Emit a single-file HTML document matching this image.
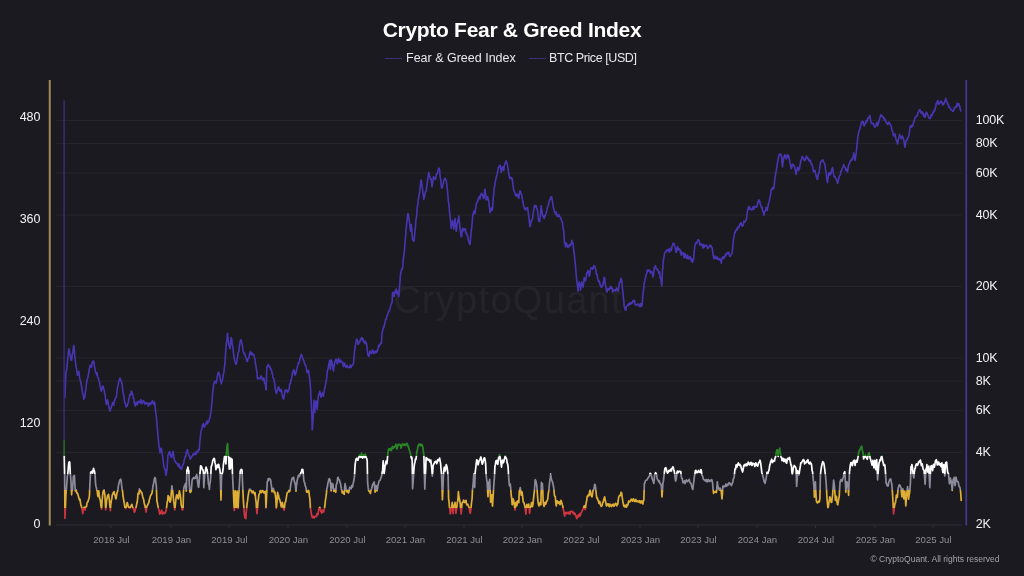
<!DOCTYPE html>
<html><head><meta charset="utf-8"><title>Crypto Fear &amp; Greed Index</title>
<style>
html,body{margin:0;padding:0;background:#1b1a20;}
body{width:1024px;height:576px;position:relative;overflow:hidden;font-family:"Liberation Sans",sans-serif;}
.title{will-change:transform;position:absolute;left:0;width:1024px;top:17.5px;text-align:center;color:#fff;font-weight:bold;font-size:21px;line-height:24px;letter-spacing:-0.3px;}
.legend{will-change:transform;position:absolute;left:0;top:50px;width:1024px;height:16px;color:#e8e8ee;font-size:12.5px;line-height:16px;}
.legend span{position:absolute;top:0;white-space:nowrap;}
.legend i{position:absolute;top:8px;height:1px;background:#3a2f7c;}
.yl{font-family:"Liberation Sans",sans-serif;font-size:12.5px;fill:#f2f2f5;}
.yr{font-family:"Liberation Sans",sans-serif;font-size:12.5px;fill:#f2f2f5;letter-spacing:-0.25px;}
.xl{font-family:"Liberation Sans",sans-serif;font-size:9.6px;fill:#8e8e96;}
.cp{font-family:"Liberation Sans",sans-serif;font-size:8.5px;fill:#a4a4aa;}
</style></head><body>
<svg width="1024" height="576" viewBox="0 0 1024 576" style="position:absolute;left:0;top:0;will-change:transform">
<defs><linearGradient id="fg" gradientUnits="userSpaceOnUse" x1="0" y1="0" x2="0" y2="576">
<stop offset="0.00000" stop-color="#4736b2"/>
<stop offset="0.76389" stop-color="#4736b2"/>
<stop offset="0.76389" stop-color="#2c8428"/>
<stop offset="0.79219" stop-color="#2c8428"/>
<stop offset="0.79219" stop-color="#ffffff"/>
<stop offset="0.82292" stop-color="#ffffff"/>
<stop offset="0.82292" stop-color="#8b8b9b"/>
<stop offset="0.85035" stop-color="#8b8b9b"/>
<stop offset="0.85035" stop-color="#dfae34"/>
<stop offset="0.88194" stop-color="#dfae34"/>
<stop offset="0.88194" stop-color="#cf3640"/>
<stop offset="1.00000" stop-color="#cf3640"/>
</linearGradient><filter id="bl" filterUnits="userSpaceOnUse" x="0" y="0" width="1024" height="576"><feGaussianBlur stdDeviation="0.55"/></filter></defs>
<text x="508" y="312.5" text-anchor="middle" font-family="Liberation Sans, sans-serif" font-size="38" letter-spacing="1.3" fill="#ffffff" fill-opacity="0.045">CryptoQuant</text>
<line x1="56" x2="962" y1="120.5" y2="120.5" stroke="#25242b" stroke-width="1"/>
<line x1="56" x2="962" y1="143.5" y2="143.5" stroke="#25242b" stroke-width="1"/>
<line x1="56" x2="962" y1="173" y2="173" stroke="#25242b" stroke-width="1"/>
<line x1="56" x2="962" y1="215" y2="215" stroke="#25242b" stroke-width="1"/>
<line x1="56" x2="962" y1="286.5" y2="286.5" stroke="#25242b" stroke-width="1"/>
<line x1="56" x2="962" y1="358" y2="358" stroke="#25242b" stroke-width="1"/>
<line x1="56" x2="962" y1="381" y2="381" stroke="#25242b" stroke-width="1"/>
<line x1="56" x2="962" y1="410.5" y2="410.5" stroke="#25242b" stroke-width="1"/>
<line x1="56" x2="962" y1="452.5" y2="452.5" stroke="#25242b" stroke-width="1"/>
<line x1="56" x2="962" y1="525" y2="525" stroke="#302f37" stroke-width="1"/>
<line x1="111" x2="111" y1="525" y2="528" stroke="#302f37" stroke-width="1"/>
<line x1="171" x2="171" y1="525" y2="528" stroke="#302f37" stroke-width="1"/>
<line x1="229" x2="229" y1="525" y2="528" stroke="#302f37" stroke-width="1"/>
<line x1="288" x2="288" y1="525" y2="528" stroke="#302f37" stroke-width="1"/>
<line x1="347" x2="347" y1="525" y2="528" stroke="#302f37" stroke-width="1"/>
<line x1="405" x2="405" y1="525" y2="528" stroke="#302f37" stroke-width="1"/>
<line x1="464" x2="464" y1="525" y2="528" stroke="#302f37" stroke-width="1"/>
<line x1="522" x2="522" y1="525" y2="528" stroke="#302f37" stroke-width="1"/>
<line x1="581" x2="581" y1="525" y2="528" stroke="#302f37" stroke-width="1"/>
<line x1="640" x2="640" y1="525" y2="528" stroke="#302f37" stroke-width="1"/>
<line x1="698" x2="698" y1="525" y2="528" stroke="#302f37" stroke-width="1"/>
<line x1="757" x2="757" y1="525" y2="528" stroke="#302f37" stroke-width="1"/>
<line x1="815.5" x2="815.5" y1="525" y2="528" stroke="#302f37" stroke-width="1"/>
<line x1="875" x2="875" y1="525" y2="528" stroke="#302f37" stroke-width="1"/>
<line x1="933" x2="933" y1="525" y2="528" stroke="#302f37" stroke-width="1"/>
<line x1="49.75" x2="49.75" y1="80" y2="525.5" stroke="#a08a58" stroke-width="2"/>
<line x1="966.25" x2="966.25" y1="80" y2="525.5" stroke="#463a8c" stroke-width="1.7"/>
<path d="M64.2,397.5 L64.6,398.0 L65.0,396.8 L65.4,385.7 L65.8,374.7 L66.2,371.5 L66.6,370.0 L67.0,367.1 L67.4,361.5 L67.9,358.3 L68.3,353.6 L68.8,348.9 L69.2,350.0 L69.6,352.9 L70.0,355.0 L70.4,355.3 L70.8,358.8 L71.2,360.1 L71.7,360.1 L72.1,356.0 L72.5,353.7 L72.9,351.9 L73.3,348.1 L73.8,345.3 L74.2,348.8 L74.6,353.5 L75.0,357.9 L75.4,361.5 L75.8,364.3 L76.2,367.1 L76.7,370.4 L77.1,372.6 L77.5,375.3 L77.9,373.9 L78.3,373.5 L78.8,371.2 L79.2,374.3 L79.6,377.7 L80.0,379.6 L80.4,380.9 L80.8,382.0 L81.2,384.5 L81.7,386.6 L82.1,390.2 L82.5,392.7 L82.9,394.3 L83.3,395.3 L83.8,399.1 L84.2,397.6 L84.6,397.7 L85.0,395.8 L85.4,392.1 L85.8,389.9 L86.2,385.5 L86.7,381.7 L87.1,379.6 L87.5,378.7 L87.9,377.3 L88.3,374.7 L88.8,372.6 L89.2,369.1 L89.6,368.0 L90.0,365.4 L90.4,365.4 L90.8,365.4 L91.2,367.2 L91.7,366.5 L92.1,362.6 L92.5,362.5 L92.9,361.2 L93.3,361.5 L93.8,361.2 L94.2,363.8 L94.6,367.6 L95.0,368.9 L95.4,371.6 L95.8,372.0 L96.2,373.6 L96.7,374.9 L97.1,372.9 L97.5,376.2 L97.9,377.6 L98.3,377.6 L98.8,380.2 L99.2,381.6 L99.6,382.0 L100.0,386.2 L100.4,387.0 L100.8,389.1 L101.2,391.2 L101.7,390.7 L102.1,388.0 L102.5,386.2 L102.9,387.4 L103.3,386.3 L103.8,389.2 L104.2,389.9 L104.6,393.3 L105.0,394.6 L105.4,397.0 L105.8,400.5 L106.2,404.4 L106.7,403.1 L107.1,400.7 L107.5,399.9 L107.9,401.0 L108.3,404.1 L108.8,406.0 L109.2,408.6 L109.6,408.4 L110.0,411.1 L110.4,409.2 L110.8,408.1 L111.2,407.8 L111.7,405.9 L112.1,404.7 L112.5,402.9 L112.9,404.4 L113.3,402.9 L113.8,405.2 L114.2,401.3 L114.6,400.8 L115.0,399.4 L115.4,398.2 L115.8,397.6 L116.2,397.6 L116.7,394.2 L117.1,390.9 L117.5,387.2 L117.9,386.4 L118.3,384.1 L118.8,381.2 L119.2,380.3 L119.6,379.3 L120.0,377.9 L120.4,379.1 L120.8,380.6 L121.2,381.2 L121.7,382.4 L122.1,385.0 L122.5,387.9 L122.9,391.3 L123.3,393.5 L123.8,396.0 L124.2,398.6 L124.6,401.9 L125.0,403.0 L125.4,403.6 L125.8,405.8 L126.2,407.0 L126.7,405.6 L127.1,406.0 L127.5,405.0 L127.9,403.8 L128.3,402.0 L128.8,399.1 L129.2,398.7 L129.6,395.8 L130.0,394.6 L130.4,394.2 L130.8,394.9 L131.2,391.4 L131.7,391.0 L132.1,393.1 L132.5,394.3 L132.9,394.5 L133.3,397.8 L133.8,398.5 L134.2,402.0 L134.6,403.6 L135.0,405.1 L135.4,406.0 L135.8,403.0 L136.2,402.3 L136.7,404.6 L137.1,402.5 L137.5,404.5 L137.9,402.9 L138.3,401.2 L138.8,401.2 L139.2,401.8 L139.6,402.3 L140.0,402.4 L140.4,403.1 L140.8,399.6 L141.2,401.1 L141.7,401.4 L142.1,403.7 L142.5,401.8 L142.9,401.8 L143.3,400.6 L143.8,401.0 L144.2,402.7 L144.6,403.3 L145.0,404.3 L145.4,402.8 L145.8,403.2 L146.2,402.9 L146.7,403.7 L147.1,403.0 L147.5,404.2 L147.9,403.3 L148.3,406.2 L148.8,405.1 L149.2,404.1 L149.6,403.6 L150.0,402.8 L150.4,404.5 L150.8,403.2 L151.2,403.6 L151.7,403.4 L152.1,401.3 L152.5,400.6 L152.9,402.8 L153.3,402.6 L153.8,404.2 L154.2,403.2 L154.6,402.0 L155.0,405.1 L155.4,408.5 L155.8,413.1 L156.2,415.2 L156.7,420.3 L157.1,425.5 L157.5,429.9 L157.9,435.1 L158.3,438.8 L158.8,445.2 L159.2,446.8 L159.6,449.6 L160.0,452.8 L160.4,451.7 L160.8,448.3 L161.2,448.2 L161.7,449.5 L162.1,453.3 L162.5,455.3 L162.9,458.5 L163.3,461.8 L163.8,465.6 L164.2,467.5 L164.6,468.7 L165.0,469.3 L165.5,471.8 L166.0,475.4 L166.5,472.7 L167.0,469.7 L167.5,461.9 L168.0,454.9 L168.5,454.4 L169.0,452.8 L169.5,451.6 L169.9,452.1 L170.4,455.3 L170.8,455.5 L171.2,457.4 L171.7,457.5 L172.1,454.4 L172.6,452.7 L173.0,451.2 L173.5,453.8 L174.0,458.5 L174.5,460.5 L174.9,461.3 L175.4,461.4 L175.8,462.8 L176.2,462.5 L176.7,463.3 L177.1,463.7 L177.5,463.8 L177.9,465.7 L178.3,466.2 L178.8,465.5 L179.2,463.9 L179.6,467.9 L180.0,467.5 L180.4,467.1 L180.8,468.1 L181.2,469.2 L181.7,468.8 L182.1,467.4 L182.5,465.8 L182.9,464.6 L183.3,464.3 L183.8,462.5 L184.2,460.0 L184.6,458.6 L185.0,457.4 L185.4,456.1 L185.8,456.2 L186.2,452.0 L186.7,451.9 L187.1,450.4 L187.5,449.6 L187.9,452.6 L188.3,454.3 L188.8,454.9 L189.2,455.7 L189.6,456.3 L190.0,458.7 L190.4,459.2 L190.8,457.3 L191.2,457.5 L191.7,456.9 L192.1,456.0 L192.5,455.4 L192.9,454.7 L193.3,453.8 L193.8,453.3 L194.2,455.0 L194.6,453.6 L195.0,453.6 L195.4,454.1 L195.8,452.2 L196.2,454.1 L196.7,452.7 L197.1,451.2 L197.5,451.0 L197.9,451.9 L198.4,449.6 L198.8,449.7 L199.2,450.0 L199.6,445.2 L200.0,440.0 L200.4,437.0 L200.8,433.0 L201.2,430.0 L201.7,429.5 L202.1,427.2 L202.5,424.8 L202.9,426.8 L203.3,423.6 L203.8,425.7 L204.2,426.4 L204.6,426.9 L205.0,426.3 L205.4,424.7 L205.8,424.3 L206.2,422.4 L206.7,423.3 L207.1,420.8 L207.5,423.9 L207.9,422.0 L208.3,422.5 L208.8,421.3 L209.2,420.2 L209.6,418.2 L210.0,417.7 L210.4,414.7 L210.8,412.7 L211.2,410.0 L211.7,404.2 L212.1,401.8 L212.5,395.3 L212.9,389.4 L213.3,388.3 L213.8,383.2 L214.2,382.7 L214.6,381.6 L215.0,381.1 L215.4,382.3 L215.8,382.6 L216.2,383.2 L216.7,380.8 L217.1,378.2 L217.5,375.6 L217.9,373.8 L218.3,372.3 L218.8,372.4 L219.2,374.8 L219.6,375.0 L220.0,377.2 L220.4,380.1 L220.8,381.7 L221.2,383.8 L221.7,381.9 L222.1,380.5 L222.5,379.9 L222.9,377.4 L223.3,374.7 L223.8,372.7 L224.2,369.7 L224.6,366.3 L225.0,362.7 L225.4,355.9 L225.8,349.8 L226.2,345.3 L226.7,341.3 L227.1,337.6 L227.5,333.3 L227.9,337.3 L228.3,340.7 L228.8,344.7 L229.2,345.7 L229.6,346.2 L230.0,348.8 L230.4,346.0 L230.8,340.6 L231.2,337.5 L231.7,339.0 L232.1,343.1 L232.5,345.7 L232.9,347.2 L233.3,351.5 L233.8,355.5 L234.2,357.8 L234.6,360.1 L235.0,361.8 L235.4,362.8 L235.8,364.2 L236.2,364.3 L236.7,362.2 L237.1,359.1 L237.5,357.3 L237.9,353.8 L238.3,352.4 L238.8,351.7 L239.2,348.2 L239.6,344.2 L240.0,343.0 L240.4,340.2 L240.8,342.0 L241.2,339.9 L241.7,342.4 L242.1,344.8 L242.5,346.3 L242.9,349.9 L243.3,351.3 L243.8,353.6 L244.2,353.6 L244.6,353.3 L245.0,354.7 L245.4,356.7 L245.8,357.4 L246.2,358.0 L246.7,361.2 L247.1,360.6 L247.5,361.4 L247.9,358.8 L248.3,358.5 L248.8,358.3 L249.2,356.3 L249.6,354.0 L250.0,352.6 L250.4,351.6 L250.8,353.4 L251.2,354.5 L251.7,352.7 L252.1,354.9 L252.5,354.1 L252.9,354.0 L253.3,354.9 L253.8,354.6 L254.2,356.7 L254.6,358.2 L255.0,359.3 L255.4,363.1 L255.8,365.0 L256.2,367.5 L256.7,370.5 L257.1,374.5 L257.5,379.0 L257.9,378.8 L258.3,377.9 L258.8,378.1 L259.2,378.5 L259.6,378.3 L260.0,378.7 L260.4,378.0 L260.8,376.2 L261.2,375.9 L261.7,377.8 L262.1,378.2 L262.5,379.9 L262.9,380.3 L263.3,378.2 L263.8,378.0 L264.2,379.6 L264.6,383.0 L265.0,383.9 L265.4,384.3 L265.8,389.0 L266.2,389.9 L266.8,366.8 L267.2,366.8 L267.6,366.0 L268.0,364.5 L268.5,364.8 L269.0,366.1 L269.5,367.2 L270.0,366.7 L270.4,368.6 L270.8,369.8 L271.2,369.1 L271.7,371.0 L272.1,373.5 L272.5,374.0 L272.9,376.9 L273.3,378.3 L273.8,378.5 L274.2,380.9 L274.6,382.9 L275.0,386.2 L275.4,388.7 L275.8,391.2 L276.2,393.4 L276.7,392.8 L277.1,390.9 L277.5,390.3 L277.9,389.4 L278.3,387.0 L278.8,387.0 L279.2,388.8 L279.6,389.6 L280.0,391.4 L280.4,391.6 L280.8,390.4 L281.2,389.4 L281.7,391.0 L282.1,394.7 L282.5,395.9 L282.9,398.1 L283.3,397.8 L283.8,398.9 L284.2,395.5 L284.6,393.7 L285.0,390.2 L285.4,390.6 L285.8,390.9 L286.2,389.7 L286.7,390.1 L287.1,391.6 L287.5,392.5 L287.9,390.9 L288.3,391.4 L288.8,389.4 L289.2,388.9 L289.6,384.6 L290.0,383.5 L290.4,383.7 L290.8,380.4 L291.2,379.4 L291.7,378.0 L292.1,375.0 L292.5,373.3 L292.9,371.9 L293.3,370.6 L293.8,369.6 L294.2,370.7 L294.6,374.8 L295.0,374.8 L295.4,375.0 L295.8,372.1 L296.2,372.7 L296.7,369.3 L297.1,367.9 L297.5,366.5 L297.9,364.9 L298.3,362.8 L298.8,363.6 L299.2,361.9 L299.6,360.9 L300.0,358.4 L300.4,357.2 L300.8,356.3 L301.2,354.4 L301.7,355.7 L302.1,355.9 L302.5,357.7 L302.9,358.7 L303.3,359.9 L303.8,360.4 L304.2,362.4 L304.6,363.4 L305.0,364.7 L305.5,365.2 L306.0,365.8 L306.4,368.5 L306.8,371.0 L307.2,372.7 L307.7,371.2 L308.1,372.3 L308.5,370.3 L308.9,372.5 L309.3,376.5 L309.8,379.4 L310.1,383.6 L310.5,387.8 L311.0,398.6 L311.5,407.3 L311.9,417.1 L312.2,429.9 L312.6,426.2 L313.0,420.1 L313.5,411.1 L314.0,400.3 L314.4,407.7 L314.8,412.7 L315.2,407.7 L315.6,404.6 L316.0,400.9 L316.4,402.5 L316.8,404.2 L317.2,409.5 L317.6,404.1 L318.0,398.5 L318.4,396.3 L318.9,393.6 L319.3,393.8 L319.8,391.3 L320.2,392.8 L320.6,395.0 L321.0,397.3 L321.4,396.8 L321.8,394.0 L322.2,393.0 L322.7,393.0 L323.1,394.4 L323.5,396.1 L323.9,392.8 L324.3,390.3 L324.8,387.9 L325.2,386.9 L325.6,383.2 L326.0,383.0 L326.4,379.3 L326.8,377.3 L327.2,372.4 L327.7,369.7 L328.1,369.0 L328.5,366.5 L328.9,363.8 L329.3,362.1 L329.8,360.0 L330.1,365.3 L330.5,369.4 L331.0,363.9 L331.5,360.0 L331.9,362.3 L332.3,363.7 L332.8,365.6 L333.1,370.0 L333.5,371.1 L333.9,367.0 L334.3,366.0 L334.8,361.7 L335.2,361.4 L335.6,360.3 L336.0,359.0 L336.4,359.5 L336.8,362.1 L337.2,363.9 L337.7,362.7 L338.1,360.8 L338.5,358.4 L338.9,359.5 L339.3,361.0 L339.8,362.4 L340.2,361.3 L340.6,360.0 L341.0,360.8 L341.4,361.9 L341.8,362.1 L342.2,362.7 L342.7,362.1 L343.1,364.6 L343.5,366.6 L343.9,363.7 L344.3,363.6 L344.8,363.2 L345.2,366.1 L345.6,366.3 L346.0,367.3 L346.4,366.8 L346.8,365.8 L347.2,365.3 L347.7,366.9 L348.1,367.5 L348.5,367.6 L348.9,367.8 L349.3,367.4 L349.8,366.7 L350.2,365.0 L350.6,367.4 L351.0,367.5 L351.4,366.8 L351.8,365.6 L352.2,365.0 L352.7,365.0 L353.1,364.3 L353.5,363.8 L353.9,358.2 L354.3,353.5 L354.8,349.7 L355.2,345.9 L355.6,344.5 L356.0,342.2 L356.4,340.0 L356.8,339.1 L357.2,339.8 L357.7,340.7 L358.1,344.5 L358.5,344.1 L358.9,342.6 L359.3,342.5 L359.8,342.1 L360.2,340.5 L360.6,339.7 L361.0,338.7 L361.4,337.8 L361.8,338.7 L362.2,337.7 L362.7,340.5 L363.1,338.8 L363.5,341.5 L363.9,341.7 L364.3,341.5 L364.8,343.6 L365.2,341.4 L365.6,342.1 L366.0,342.2 L366.4,343.7 L366.8,344.4 L367.2,350.4 L367.8,354.4 L368.2,355.8 L368.6,356.0 L369.0,356.4 L369.4,353.6 L369.8,351.1 L370.2,352.0 L370.7,353.2 L371.1,353.2 L371.5,353.6 L371.9,352.7 L372.3,350.1 L372.8,350.3 L373.2,351.4 L373.6,352.4 L374.0,353.6 L374.4,352.9 L374.8,352.2 L375.2,351.1 L375.7,352.5 L376.1,352.3 L376.5,352.5 L376.9,350.5 L377.3,351.1 L377.8,349.2 L378.2,348.5 L378.6,345.4 L379.0,346.1 L379.4,346.3 L379.8,344.6 L380.2,344.2 L380.7,342.9 L381.1,343.6 L381.5,342.7 L381.9,335.3 L382.2,332.4 L382.7,330.6 L383.1,328.6 L383.5,327.2 L383.9,327.7 L384.3,324.9 L384.8,324.0 L385.2,321.3 L385.6,319.4 L386.0,319.8 L386.4,318.7 L386.8,316.0 L387.2,315.2 L387.7,314.9 L388.1,312.9 L388.5,312.5 L388.9,310.6 L389.3,311.0 L389.8,309.4 L390.2,307.9 L390.6,305.8 L391.0,304.7 L391.4,303.5 L391.8,303.3 L392.2,301.0 L392.5,292.8 L392.9,292.4 L393.3,294.7 L393.8,296.5 L394.2,295.9 L394.6,292.3 L395.0,291.3 L395.4,292.9 L395.8,291.2 L396.2,289.0 L396.7,290.8 L397.1,293.6 L397.5,291.8 L397.9,294.3 L398.3,292.9 L398.8,296.6 L399.2,290.2 L399.6,286.7 L400.0,281.3 L400.4,275.2 L400.8,273.0 L401.2,271.1 L401.7,268.8 L402.1,269.3 L402.5,268.2 L402.9,265.5 L403.3,259.7 L403.8,255.7 L404.2,252.4 L404.6,248.8 L405.0,243.4 L405.4,238.8 L405.8,233.9 L406.2,228.3 L406.7,223.3 L407.1,220.6 L407.5,215.9 L407.9,213.5 L408.2,213.8 L408.7,216.8 L409.1,219.5 L409.5,222.0 L410.0,226.4 L410.5,231.2 L410.9,228.3 L411.2,224.5 L411.7,228.5 L412.1,234.2 L412.5,238.6 L412.9,240.1 L413.3,239.1 L413.8,241.3 L414.2,239.3 L414.6,235.2 L415.0,231.0 L415.4,227.6 L415.8,221.5 L416.2,218.3 L416.7,216.2 L417.1,208.7 L417.5,205.6 L417.9,203.8 L418.3,199.6 L418.8,197.0 L419.2,193.3 L419.6,192.9 L420.0,188.3 L420.4,185.3 L420.8,181.0 L421.2,180.0 L421.7,182.7 L422.1,186.0 L422.5,189.1 L422.9,192.4 L423.3,194.9 L423.8,199.4 L424.2,197.7 L424.6,196.8 L425.0,193.1 L425.4,192.4 L425.8,191.7 L426.2,191.2 L426.7,186.9 L427.1,184.6 L427.5,181.3 L427.9,178.0 L428.3,175.1 L428.8,172.5 L429.2,174.4 L429.6,176.7 L430.0,176.9 L430.4,179.2 L430.8,178.7 L431.2,179.3 L431.6,183.0 L432.0,186.8 L432.5,183.3 L433.0,180.1 L433.4,176.9 L433.8,177.0 L434.2,177.5 L434.7,177.8 L435.1,179.6 L435.5,179.3 L435.9,178.0 L436.3,174.1 L436.8,174.4 L437.2,173.7 L437.6,172.5 L438.0,170.3 L438.4,169.3 L438.8,168.1 L439.2,168.4 L439.7,170.1 L440.1,176.4 L440.5,178.9 L440.9,181.0 L441.3,186.8 L441.8,188.0 L442.2,187.8 L442.6,185.3 L443.0,184.1 L443.4,183.4 L443.8,180.4 L444.2,180.2 L444.7,178.5 L445.1,179.0 L445.5,178.3 L445.9,180.3 L446.3,181.3 L446.8,183.8 L447.1,187.8 L447.5,191.0 L447.9,195.1 L448.3,201.1 L448.8,203.2 L449.2,207.3 L449.6,212.5 L450.0,216.0 L450.4,218.7 L450.8,224.2 L451.2,228.4 L451.7,225.1 L452.1,223.7 L452.5,220.6 L452.9,223.3 L453.3,225.0 L453.8,229.1 L454.2,224.9 L454.6,222.2 L455.0,218.6 L455.4,223.3 L455.8,226.7 L456.2,231.3 L456.7,228.6 L457.1,223.8 L457.5,223.6 L457.9,219.8 L458.3,219.4 L458.8,216.1 L459.2,220.2 L459.6,222.9 L460.0,229.0 L460.4,231.2 L460.8,234.4 L461.2,236.8 L461.7,236.1 L462.1,231.8 L462.5,228.5 L462.9,228.4 L463.3,229.9 L463.8,230.9 L464.2,229.8 L464.6,229.3 L465.0,228.8 L465.4,228.6 L465.8,232.0 L466.2,233.9 L466.7,233.1 L467.1,235.0 L467.5,235.9 L467.9,236.6 L468.3,240.2 L468.8,240.9 L469.2,243.3 L469.6,243.9 L470.0,244.6 L470.4,240.4 L470.8,235.2 L471.2,230.4 L471.7,228.1 L472.1,223.0 L472.5,218.9 L472.9,214.4 L473.3,214.4 L473.8,211.3 L474.2,211.8 L474.6,210.8 L475.0,213.5 L475.4,210.0 L475.8,207.5 L476.2,204.8 L476.7,202.7 L477.1,202.1 L477.5,201.0 L477.9,201.1 L478.3,198.4 L478.8,198.1 L479.2,196.6 L479.6,198.0 L480.0,198.9 L480.4,195.4 L480.8,195.7 L481.2,193.6 L481.7,193.4 L482.1,194.1 L482.5,195.3 L482.9,195.6 L483.3,197.5 L483.8,198.7 L484.2,196.7 L484.6,190.8 L485.0,189.2 L485.4,191.9 L485.8,196.2 L486.2,200.0 L486.7,199.2 L487.1,197.0 L487.5,196.5 L487.9,197.6 L488.3,200.0 L488.8,200.7 L489.2,205.5 L489.6,207.9 L490.0,212.7 L490.4,211.8 L490.8,211.4 L491.2,208.3 L491.7,207.9 L492.1,210.1 L492.5,209.9 L492.9,203.9 L493.3,197.7 L493.8,193.8 L494.2,188.4 L494.6,186.4 L495.0,183.9 L495.4,181.2 L495.8,179.7 L496.2,177.4 L496.7,176.1 L497.1,174.9 L497.5,172.5 L497.9,170.2 L498.3,167.8 L498.8,167.1 L499.2,165.8 L499.6,165.9 L500.0,165.2 L500.4,168.0 L500.8,169.1 L501.2,172.3 L501.7,170.2 L502.1,167.7 L502.5,166.5 L502.9,168.2 L503.3,169.7 L503.8,170.6 L504.2,166.1 L504.6,165.3 L505.0,163.9 L505.4,162.5 L505.8,161.8 L506.2,160.9 L506.7,162.7 L507.1,163.5 L507.5,165.4 L507.9,167.6 L508.3,170.3 L508.8,174.0 L509.2,175.8 L509.6,177.5 L510.0,178.7 L510.4,178.0 L510.8,178.0 L511.2,177.4 L511.7,178.6 L512.1,178.1 L512.5,181.5 L512.9,183.9 L513.3,187.2 L513.8,190.9 L514.2,191.2 L514.6,191.9 L515.0,193.5 L515.4,195.1 L515.8,194.9 L516.2,196.2 L516.7,194.4 L517.1,195.8 L517.5,194.3 L517.9,196.6 L518.3,196.6 L518.8,198.3 L519.2,194.9 L519.6,192.4 L520.0,190.9 L520.4,191.0 L520.8,192.5 L521.2,193.9 L521.7,194.8 L522.1,197.4 L522.5,199.7 L522.9,201.3 L523.3,203.9 L523.8,206.1 L524.2,208.2 L524.6,207.8 L525.0,209.7 L525.4,209.2 L525.8,210.0 L526.2,208.1 L526.7,208.2 L527.1,208.4 L527.5,207.5 L527.9,209.9 L528.3,213.0 L528.8,216.6 L529.2,220.1 L529.6,223.7 L530.0,226.7 L530.4,225.9 L530.8,223.2 L531.2,220.9 L531.7,219.7 L532.1,219.8 L532.5,218.4 L532.9,216.0 L533.3,212.2 L533.8,210.1 L534.2,206.6 L534.6,205.5 L535.0,205.4 L535.4,206.1 L535.8,207.1 L536.2,205.7 L536.7,207.9 L537.1,209.4 L537.5,210.1 L537.9,213.3 L538.3,218.6 L538.8,221.1 L539.2,219.0 L539.6,221.6 L540.0,218.5 L540.4,215.5 L540.8,209.5 L541.2,205.7 L541.7,209.7 L542.1,212.6 L542.5,214.5 L542.9,216.2 L543.3,216.1 L543.8,217.8 L544.2,218.6 L544.6,215.8 L545.0,216.3 L545.4,215.7 L545.8,213.8 L546.2,212.8 L546.7,210.9 L547.1,209.2 L547.5,207.3 L547.9,206.4 L548.3,205.1 L548.8,203.2 L549.2,201.8 L549.6,199.8 L550.0,199.5 L550.4,199.2 L550.8,197.0 L551.2,197.5 L551.7,196.9 L552.1,199.8 L552.5,201.7 L552.9,203.6 L553.3,207.2 L553.8,208.4 L554.2,210.6 L554.6,212.2 L555.0,212.7 L555.4,212.4 L555.8,214.4 L556.2,212.0 L556.7,214.6 L557.1,216.3 L557.5,216.0 L557.9,216.5 L558.3,215.5 L558.8,214.5 L559.2,216.1 L559.6,216.8 L560.0,216.9 L560.4,217.7 L560.8,217.7 L561.2,219.6 L561.7,221.0 L562.1,221.4 L562.5,222.8 L562.9,226.6 L563.3,229.6 L563.8,230.7 L564.1,237.3 L564.5,243.3 L565.0,242.4 L565.5,246.8 L565.9,245.4 L566.3,243.1 L566.8,244.0 L567.2,245.4 L567.6,247.3 L568.0,247.5 L568.4,246.9 L568.8,246.9 L569.2,244.7 L569.7,245.4 L570.1,244.6 L570.5,245.6 L570.9,244.5 L571.3,242.9 L571.8,240.4 L572.2,242.2 L572.6,243.6 L573.0,243.0 L573.4,246.5 L573.8,251.7 L574.2,253.2 L574.7,258.2 L575.1,262.5 L575.5,266.1 L575.9,271.1 L576.3,276.5 L576.8,281.1 L577.2,284.5 L577.6,286.3 L578.0,291.1 L578.4,287.0 L578.8,285.7 L579.2,281.8 L579.7,284.9 L580.1,284.9 L580.5,290.1 L580.9,287.4 L581.3,283.8 L581.8,281.8 L582.2,284.9 L582.6,285.0 L583.0,287.2 L583.4,284.4 L583.8,282.3 L584.2,277.5 L584.7,280.4 L585.1,279.4 L585.5,280.9 L585.9,279.1 L586.3,276.3 L586.8,272.7 L587.2,273.2 L587.6,271.7 L588.0,270.6 L588.4,272.1 L588.8,272.9 L589.2,276.3 L589.7,275.2 L590.1,271.3 L590.5,269.6 L590.9,268.0 L591.3,268.3 L591.8,268.1 L592.2,268.1 L592.6,269.2 L593.0,267.6 L593.4,267.7 L593.8,265.5 L594.2,266.3 L594.7,266.2 L595.1,266.9 L595.5,268.8 L595.9,270.1 L596.3,274.1 L596.8,273.6 L597.2,275.3 L597.6,278.3 L598.0,279.3 L598.4,280.8 L598.8,282.0 L599.2,281.0 L599.7,282.2 L600.1,285.3 L600.5,285.6 L600.9,286.8 L601.3,286.4 L601.8,287.4 L602.2,285.3 L602.6,285.3 L603.0,283.7 L603.4,283.0 L603.8,279.0 L604.2,277.4 L604.7,278.6 L605.1,282.4 L605.5,286.1 L605.9,286.9 L606.3,290.1 L606.8,291.9 L607.2,291.4 L607.6,290.3 L608.0,288.3 L608.4,289.5 L608.8,288.8 L609.2,289.8 L609.7,289.0 L610.1,287.8 L610.5,286.2 L610.9,288.4 L611.3,287.1 L611.8,288.4 L612.2,288.1 L612.6,291.8 L613.0,291.8 L613.4,290.9 L613.8,290.1 L614.2,289.9 L614.7,289.9 L615.1,290.3 L615.5,291.0 L615.9,289.9 L616.3,289.3 L616.8,288.1 L617.2,288.8 L617.6,289.1 L618.0,291.3 L618.4,289.3 L618.8,286.6 L619.2,283.6 L619.7,282.1 L620.1,282.3 L620.5,280.4 L620.9,278.3 L621.3,279.1 L621.8,280.3 L622.1,284.3 L622.5,289.1 L622.9,291.7 L623.3,297.1 L623.8,300.6 L624.2,306.6 L624.7,307.8 L625.1,309.7 L625.5,309.8 L625.9,310.3 L626.3,306.5 L626.8,306.0 L627.2,305.9 L627.6,304.7 L628.0,305.6 L628.4,305.2 L628.8,303.5 L629.2,304.4 L629.7,304.6 L630.1,302.6 L630.5,303.1 L630.9,304.0 L631.3,302.9 L631.8,303.5 L632.2,302.8 L632.6,302.3 L633.0,300.6 L633.4,301.8 L633.8,300.4 L634.2,300.6 L634.7,300.6 L635.1,304.3 L635.5,304.1 L635.9,305.2 L636.3,304.6 L636.8,305.0 L637.2,305.0 L637.6,304.6 L638.0,303.8 L638.4,303.7 L638.8,304.2 L639.2,306.3 L639.7,305.7 L640.1,306.7 L640.5,304.6 L640.9,303.6 L641.3,304.1 L641.8,306.2 L642.2,304.0 L642.6,298.4 L643.0,294.7 L643.4,291.2 L643.8,288.1 L644.2,282.9 L644.7,281.6 L645.1,280.0 L645.5,277.4 L645.9,275.9 L646.3,274.5 L646.8,273.2 L647.2,270.1 L647.6,271.2 L648.0,271.4 L648.4,270.6 L648.8,270.3 L649.2,269.9 L649.7,270.0 L650.1,272.1 L650.5,273.0 L650.9,271.8 L651.3,272.1 L651.8,271.6 L652.2,272.7 L652.6,275.3 L653.0,277.0 L653.4,275.6 L653.8,272.4 L654.2,267.4 L654.7,268.9 L655.1,267.4 L655.5,265.6 L655.9,267.5 L656.3,268.1 L656.8,268.9 L657.2,269.8 L657.6,269.2 L658.0,270.4 L658.4,271.1 L658.8,273.4 L659.2,272.5 L659.7,271.9 L660.1,277.6 L660.5,277.7 L660.9,278.8 L661.3,282.8 L661.8,286.0 L662.1,279.0 L662.5,269.8 L662.9,266.9 L663.3,261.2 L663.8,257.8 L664.2,255.3 L664.6,253.1 L665.0,252.7 L665.4,251.9 L665.8,252.1 L666.2,250.7 L666.7,249.9 L667.1,250.1 L667.5,250.7 L667.9,250.8 L668.3,249.3 L668.8,250.1 L669.2,252.1 L669.6,249.9 L670.0,248.3 L670.4,250.1 L670.8,250.4 L671.2,250.8 L671.7,248.5 L672.1,246.2 L672.5,245.3 L672.9,243.4 L673.3,243.8 L673.8,243.4 L674.2,244.5 L674.6,245.1 L675.0,247.0 L675.4,248.2 L675.8,251.2 L676.2,252.5 L676.7,250.3 L677.1,248.8 L677.5,246.5 L677.9,247.5 L678.3,249.8 L678.8,248.9 L679.2,249.5 L679.6,249.1 L680.0,250.4 L680.4,253.0 L680.8,250.7 L681.2,255.3 L681.7,253.2 L682.1,253.7 L682.5,252.5 L682.9,252.6 L683.3,253.8 L683.8,256.2 L684.2,257.8 L684.6,253.5 L685.0,253.6 L685.4,254.7 L685.8,256.0 L686.2,257.9 L686.7,258.5 L687.1,255.8 L687.5,255.1 L687.9,256.0 L688.3,258.9 L688.8,258.7 L689.2,258.5 L689.6,256.9 L690.0,256.7 L690.4,257.4 L690.8,258.0 L691.2,260.7 L691.7,259.1 L692.1,261.8 L692.5,262.4 L692.9,259.6 L693.3,260.2 L693.8,256.4 L694.2,252.1 L694.6,247.9 L695.0,245.1 L695.4,244.2 L695.8,243.1 L696.2,242.3 L696.7,243.5 L697.1,241.9 L697.5,241.2 L697.9,239.7 L698.3,239.7 L698.8,240.3 L699.2,241.0 L699.6,243.9 L700.0,245.0 L700.4,244.9 L700.8,244.5 L701.2,243.6 L701.7,244.3 L702.1,245.4 L702.5,246.5 L702.9,248.0 L703.3,246.2 L703.8,244.5 L704.2,247.4 L704.6,245.7 L705.0,246.0 L705.4,245.9 L705.8,245.4 L706.2,245.1 L706.7,245.8 L707.1,246.6 L707.5,248.0 L707.9,248.6 L708.3,246.8 L708.8,246.8 L709.2,246.7 L709.6,246.5 L710.0,245.1 L710.4,245.6 L710.8,246.6 L711.2,245.9 L711.7,247.6 L712.1,247.7 L712.5,250.3 L712.9,253.1 L713.3,256.4 L713.8,258.6 L714.2,257.2 L714.6,257.9 L715.0,256.1 L715.4,256.9 L715.8,257.9 L716.2,258.9 L716.7,258.4 L717.1,257.0 L717.5,257.1 L717.9,259.2 L718.3,258.9 L718.8,259.9 L719.2,258.8 L719.6,260.0 L720.0,258.9 L720.4,259.5 L720.8,259.7 L721.2,263.1 L721.7,260.3 L722.1,258.1 L722.5,257.3 L722.9,256.9 L723.3,258.3 L723.8,258.6 L724.2,256.8 L724.6,257.7 L725.0,255.9 L725.4,254.2 L725.8,255.7 L726.2,254.8 L726.7,253.6 L727.1,252.7 L727.5,253.5 L727.9,252.8 L728.3,252.5 L728.8,252.3 L729.2,254.9 L729.6,256.0 L730.0,256.4 L730.4,256.3 L730.8,255.0 L731.2,254.5 L731.7,253.8 L732.1,252.9 L732.5,249.7 L732.9,245.2 L733.3,241.0 L733.8,237.0 L734.2,235.9 L734.6,232.4 L735.0,231.7 L735.4,232.3 L735.8,230.5 L736.2,230.0 L736.7,228.8 L737.1,230.0 L737.5,228.8 L737.9,227.0 L738.3,227.1 L738.8,227.7 L739.2,225.8 L739.6,225.4 L740.0,223.8 L740.4,224.6 L740.8,222.8 L741.2,222.9 L741.7,224.7 L742.1,226.2 L742.5,226.1 L742.9,224.8 L743.3,225.2 L743.8,221.2 L744.2,221.1 L744.6,222.2 L745.0,222.1 L745.4,220.9 L745.8,220.4 L746.2,219.9 L746.7,218.0 L747.1,213.2 L747.5,211.2 L747.9,209.8 L748.3,207.7 L748.8,206.5 L749.2,209.1 L749.6,206.9 L750.0,208.4 L750.4,208.7 L750.8,209.1 L751.2,209.8 L751.7,209.5 L752.1,209.9 L752.5,208.4 L752.9,207.8 L753.3,206.5 L753.8,209.3 L754.2,207.9 L754.6,206.7 L755.0,206.6 L755.4,206.6 L755.8,206.9 L756.2,207.2 L756.7,207.1 L757.1,205.8 L757.5,203.4 L757.9,202.0 L758.3,202.4 L758.8,199.7 L759.2,200.5 L759.6,201.0 L760.0,202.4 L760.4,204.5 L760.8,205.1 L761.2,206.6 L761.7,208.0 L762.1,206.9 L762.5,210.0 L762.9,211.6 L763.3,211.8 L763.8,215.3 L764.2,213.7 L764.6,212.0 L765.0,211.4 L765.4,210.9 L765.8,209.4 L766.2,207.3 L766.7,207.9 L767.1,210.5 L767.5,208.3 L767.9,206.7 L768.3,204.6 L768.8,203.0 L769.2,201.4 L769.6,199.4 L770.0,197.4 L770.4,196.1 L770.8,192.6 L771.2,190.0 L771.7,189.3 L772.1,189.0 L772.5,187.5 L772.9,188.1 L773.3,189.0 L773.8,188.5 L774.2,184.8 L774.6,181.3 L775.0,177.7 L775.4,175.9 L775.8,172.9 L776.2,170.9 L776.7,168.0 L777.1,165.0 L777.5,162.8 L777.9,161.0 L778.3,158.4 L778.8,155.9 L779.2,154.2 L779.6,154.7 L780.0,154.0 L780.4,154.5 L780.8,154.4 L781.2,155.2 L781.7,157.0 L782.1,163.5 L782.5,166.8 L782.9,163.5 L783.3,160.6 L783.8,157.4 L784.2,157.5 L784.6,155.0 L785.0,154.8 L785.4,156.6 L785.8,156.2 L786.2,158.9 L786.7,157.9 L787.1,156.2 L787.5,154.8 L787.9,157.0 L788.3,155.4 L788.8,156.3 L789.2,159.1 L789.6,160.4 L790.0,162.9 L790.4,164.6 L790.8,166.9 L791.2,168.7 L791.7,167.7 L792.1,164.8 L792.5,164.1 L792.9,165.5 L793.3,164.5 L793.8,165.7 L794.2,165.9 L794.6,167.2 L795.0,169.0 L795.4,170.5 L795.8,173.8 L796.2,174.3 L796.7,170.3 L797.1,169.2 L797.5,167.4 L797.9,169.8 L798.3,169.9 L798.8,170.3 L799.2,167.6 L799.6,168.5 L800.0,164.6 L800.4,163.4 L800.8,160.8 L801.2,159.7 L801.7,159.0 L802.1,156.7 L802.5,156.5 L802.9,157.6 L803.3,158.0 L803.8,159.0 L804.2,160.2 L804.6,160.6 L805.0,159.6 L805.4,159.3 L805.8,158.3 L806.2,156.1 L806.7,156.3 L807.1,158.2 L807.5,157.7 L807.9,158.0 L808.3,159.6 L808.8,159.1 L809.2,161.1 L809.6,160.1 L810.0,161.6 L810.4,160.3 L810.8,162.3 L811.2,164.4 L811.7,163.7 L812.1,165.3 L812.5,166.1 L812.9,168.3 L813.3,170.6 L813.8,171.8 L814.2,170.7 L814.6,170.7 L815.0,170.3 L815.4,173.1 L815.8,173.9 L816.2,176.7 L816.7,176.2 L817.1,179.0 L817.5,179.5 L817.9,177.1 L818.3,174.3 L818.8,173.1 L819.2,171.9 L819.6,169.0 L820.0,166.3 L820.4,162.8 L820.8,161.4 L821.2,161.3 L821.7,161.5 L822.1,160.9 L822.5,159.7 L822.9,159.7 L823.3,161.3 L823.8,162.1 L824.2,163.2 L824.6,163.7 L825.0,165.0 L825.4,168.3 L825.8,171.1 L826.2,173.2 L826.7,178.1 L827.1,180.0 L827.5,182.7 L827.9,178.8 L828.3,176.8 L828.8,172.9 L829.2,172.7 L829.6,175.1 L830.0,174.7 L830.4,172.5 L830.8,174.1 L831.2,172.1 L831.7,170.3 L832.1,168.3 L832.5,167.5 L832.9,169.7 L833.3,172.6 L833.8,175.2 L834.2,176.9 L834.6,176.2 L835.0,176.4 L835.4,177.5 L835.8,178.6 L836.2,179.1 L836.7,180.7 L837.1,181.0 L837.5,183.4 L837.9,182.3 L838.3,180.1 L838.8,178.6 L839.2,177.0 L839.6,175.6 L840.0,175.4 L840.4,174.5 L840.8,171.4 L841.2,171.3 L841.7,170.0 L842.1,168.3 L842.5,167.9 L842.9,167.0 L843.3,165.9 L843.8,164.7 L844.2,166.7 L844.6,166.9 L845.0,167.6 L845.4,167.7 L845.8,170.5 L846.2,168.9 L846.7,169.6 L847.1,170.2 L847.5,172.0 L847.9,169.1 L848.3,167.0 L848.8,164.9 L849.2,163.9 L849.6,163.7 L850.0,161.5 L850.4,160.9 L850.8,160.3 L851.2,160.1 L851.7,160.3 L852.1,158.5 L852.5,159.4 L852.9,157.1 L853.3,156.2 L853.8,152.9 L854.2,156.0 L854.6,157.6 L855.0,160.5 L855.4,158.4 L855.8,155.3 L856.2,152.7 L856.7,148.1 L857.1,143.4 L857.5,140.4 L857.9,136.4 L858.3,134.5 L858.8,132.1 L859.2,130.4 L859.6,129.6 L860.0,129.1 L860.4,126.2 L860.8,126.1 L861.2,123.1 L861.7,122.2 L862.1,121.3 L862.5,121.5 L862.9,123.7 L863.3,121.7 L863.8,125.0 L864.2,126.0 L864.6,124.2 L865.0,124.3 L865.4,124.0 L865.8,122.3 L866.2,120.7 L866.7,120.2 L867.1,121.8 L867.5,119.7 L867.9,118.2 L868.3,117.9 L868.8,118.0 L869.2,117.2 L869.6,115.3 L870.0,116.0 L870.4,118.9 L870.8,121.5 L871.2,123.0 L871.7,123.4 L872.1,123.8 L872.5,123.4 L872.9,123.7 L873.3,123.4 L873.8,124.9 L874.2,126.2 L874.6,126.7 L875.0,127.2 L875.4,126.8 L875.8,125.8 L876.2,124.2 L876.7,122.6 L877.1,123.2 L877.5,125.9 L877.9,125.1 L878.3,123.8 L878.8,121.5 L879.2,120.0 L879.6,119.0 L880.0,117.4 L880.4,116.1 L880.8,114.9 L881.2,116.1 L881.7,115.2 L882.1,116.3 L882.5,116.4 L882.9,117.5 L883.3,117.0 L883.8,117.8 L884.2,120.1 L884.6,118.6 L885.0,119.8 L885.4,119.9 L885.8,121.3 L886.2,122.1 L886.7,123.2 L887.1,123.9 L887.5,124.2 L887.9,124.5 L888.3,122.6 L888.8,122.6 L889.2,122.2 L889.6,123.4 L890.0,123.8 L890.4,125.0 L890.8,125.4 L891.2,125.9 L891.7,129.2 L892.1,130.3 L892.5,132.0 L892.9,132.2 L893.3,135.6 L893.8,135.6 L894.2,136.0 L894.6,135.9 L895.0,133.9 L895.4,136.6 L895.8,138.4 L896.2,139.8 L896.7,141.4 L897.1,140.8 L897.5,144.0 L897.9,142.2 L898.3,139.7 L898.8,137.9 L899.2,136.5 L899.6,134.3 L900.0,135.5 L900.4,136.3 L900.8,137.0 L901.2,138.6 L901.7,137.6 L902.1,137.3 L902.5,135.8 L902.9,137.6 L903.3,138.4 L903.8,140.2 L904.2,142.2 L904.6,145.6 L905.0,147.2 L905.4,145.3 L905.8,142.2 L906.2,140.4 L906.7,139.9 L907.1,140.1 L907.5,138.6 L907.9,137.4 L908.3,137.1 L908.8,135.9 L909.2,133.1 L909.6,131.5 L910.0,127.1 L910.4,126.2 L910.8,125.9 L911.2,125.6 L911.7,127.3 L912.1,125.3 L912.5,126.1 L912.9,125.2 L913.3,123.2 L913.8,121.8 L914.2,121.4 L914.6,119.5 L915.0,117.6 L915.4,117.6 L915.8,116.8 L916.2,116.0 L916.7,116.4 L917.1,115.4 L917.5,115.1 L917.9,112.8 L918.3,112.6 L918.8,111.2 L919.2,110.1 L919.6,109.7 L920.0,109.8 L920.4,111.3 L920.8,111.9 L921.2,113.4 L921.7,113.4 L922.1,111.8 L922.5,112.6 L922.9,113.0 L923.3,114.8 L923.8,116.6 L924.2,114.7 L924.6,115.9 L925.0,117.3 L925.4,115.7 L925.8,113.4 L926.2,112.2 L926.7,112.8 L927.1,113.3 L927.5,115.0 L927.9,115.2 L928.3,116.5 L928.8,117.5 L929.2,118.5 L929.6,117.8 L930.0,118.6 L930.4,118.3 L930.8,115.2 L931.2,116.3 L931.7,114.6 L932.1,115.4 L932.5,113.6 L932.9,112.1 L933.3,113.0 L933.8,111.1 L934.2,110.1 L934.6,110.8 L935.0,109.3 L935.4,107.8 L935.8,106.5 L936.2,103.3 L936.7,103.8 L937.1,101.8 L937.5,101.1 L937.9,100.6 L938.3,104.2 L938.8,104.2 L939.2,103.0 L939.6,103.2 L940.0,101.8 L940.4,102.1 L940.8,102.0 L941.2,101.0 L941.7,101.9 L942.1,103.6 L942.5,104.7 L942.9,103.1 L943.3,104.8 L943.8,104.1 L944.2,103.0 L944.6,101.9 L945.0,100.4 L945.4,100.1 L945.8,98.2 L946.2,101.3 L946.7,101.6 L947.1,101.9 L947.5,103.9 L947.9,103.7 L948.3,104.4 L948.8,107.1 L949.2,106.3 L949.6,107.2 L950.0,107.7 L950.4,108.9 L950.8,109.1 L951.2,110.2 L951.7,110.3 L952.1,110.4 L952.5,111.2 L952.9,111.4 L953.3,111.0 L953.8,110.2 L954.2,107.8 L954.6,108.1 L955.0,107.7 L955.4,106.7 L955.8,107.1 L956.2,106.3 L956.7,106.9 L957.1,103.4 L957.5,105.1 L957.9,105.5 L958.3,104.8 L958.8,103.6 L959.2,104.8 L959.6,105.9 L960.0,107.7 L960.4,110.0 L960.8,111.0" fill="none" stroke="#4736b2" stroke-width="1.6" filter="url(#bl)" stroke-linejoin="round" stroke-linecap="round"/>
<line x1="64.1" x2="64.1" y1="100.5" y2="439.5" stroke="#352c74" stroke-width="1.6" filter="url(#bl)"/>
<line x1="64.1" x2="64.1" y1="439.5" y2="456" stroke="#2c6a2c" stroke-width="1.6" filter="url(#bl)"/>
<path d="M64.2,456.0 L64.6,474.4 L65.0,518.3 L65.5,505.7 L65.9,495.1 L66.4,488.6 L66.9,482.2 L67.3,476.9 L67.8,474.2 L68.3,468.1 L68.8,462.7 L69.2,461.9 L69.7,462.0 L70.2,472.4 L70.6,476.4 L71.0,482.0 L71.6,494.8 L72.0,489.3 L72.5,489.8 L73.0,482.5 L73.4,476.0 L73.9,476.0 L74.4,475.4 L74.8,483.3 L75.3,490.9 L75.8,491.0 L76.2,489.8 L76.7,493.0 L77.2,492.7 L77.7,493.9 L78.1,495.0 L78.6,497.1 L79.1,498.7 L79.5,500.1 L80.0,499.3 L80.5,502.8 L80.9,505.2 L81.4,506.2 L81.9,508.6 L82.3,509.9 L82.8,513.7 L83.3,509.0 L83.8,508.2 L84.2,507.0 L84.7,508.4 L85.2,510.1 L85.6,507.4 L86.1,506.6 L86.6,506.3 L87.0,502.9 L87.5,502.1 L88.0,501.8 L88.4,499.8 L88.9,498.9 L89.4,496.2 L89.9,483.7 L90.3,476.5 L90.7,472.2 L91.2,472.8 L91.6,472.3 L92.1,471.1 L92.6,473.1 L93.0,470.9 L93.5,468.3 L94.0,469.8 L94.4,470.9 L95.0,474.3 L95.6,483.5 L95.9,486.2 L96.3,487.3 L96.8,490.0 L97.2,491.1 L97.7,495.4 L98.2,496.7 L98.8,490.8 L99.2,495.0 L99.7,498.5 L100.2,499.6 L100.6,502.4 L101.1,506.8 L101.6,509.2 L102.1,500.6 L102.6,495.7 L103.1,491.2 L103.5,491.4 L104.0,489.8 L104.5,493.1 L104.9,494.9 L105.3,502.5 L105.7,509.9 L106.2,504.9 L106.6,500.4 L107.1,498.1 L107.6,495.7 L108.0,495.4 L108.5,494.3 L109.0,497.7 L109.4,500.4 L109.9,505.8 L110.4,510.7 L110.8,504.0 L111.3,500.9 L111.8,498.6 L112.2,495.1 L112.7,494.2 L113.2,492.7 L113.7,493.7 L114.1,491.7 L114.6,494.6 L115.1,495.1 L115.5,497.6 L116.0,498.8 L116.5,496.1 L116.9,492.9 L117.4,491.8 L117.9,489.9 L118.3,486.4 L118.8,483.8 L119.3,482.4 L119.8,480.0 L120.2,480.3 L120.7,479.1 L121.2,481.2 L121.6,485.2 L122.1,489.1 L122.6,491.5 L123.0,496.0 L123.5,498.8 L124.0,501.7 L124.4,503.8 L124.9,507.5 L125.4,507.8 L125.8,508.6 L126.3,506.8 L126.8,504.2 L127.2,502.5 L127.7,504.0 L128.2,506.0 L128.7,507.5 L129.1,507.4 L129.6,508.0 L130.1,508.0 L130.5,506.4 L131.0,506.1 L131.5,504.8 L131.9,504.4 L132.4,506.9 L132.9,508.1 L133.3,508.3 L133.8,509.8 L134.3,512.1 L134.8,511.9 L135.2,510.2 L135.7,508.2 L136.2,506.8 L136.6,504.4 L137.1,502.6 L137.6,499.0 L138.0,493.4 L138.5,493.1 L139.0,493.9 L139.4,488.9 L139.9,490.0 L140.4,490.7 L140.8,491.2 L141.3,492.7 L141.8,492.4 L142.2,494.5 L142.7,496.7 L143.2,498.5 L143.7,499.7 L144.1,502.7 L144.6,504.6 L145.1,506.3 L145.5,508.7 L146.0,512.0 L146.5,509.0 L146.9,506.0 L147.4,505.8 L147.9,504.5 L148.3,503.5 L148.8,502.8 L149.3,499.6 L149.8,498.7 L150.2,496.4 L150.7,495.5 L151.2,494.5 L151.6,493.9 L152.1,492.7 L152.6,489.2 L153.0,485.6 L153.5,483.9 L154.0,481.2 L154.4,479.0 L154.9,477.6 L155.4,478.3 L155.8,482.0 L156.3,485.8 L156.9,500.7 L157.3,502.6 L157.8,505.4 L158.3,507.9 L158.8,509.8 L159.2,511.4 L159.7,514.1 L160.2,513.2 L160.6,513.4 L161.1,511.6 L161.6,510.2 L162.0,512.3 L162.5,514.0 L163.0,512.1 L163.4,513.2 L163.9,513.4 L164.4,513.4 L164.8,513.4 L165.3,512.0 L165.8,512.1 L166.2,510.3 L166.7,506.6 L167.2,501.9 L167.7,500.3 L168.1,495.5 L168.6,496.6 L169.1,497.0 L169.5,500.8 L170.0,502.2 L170.5,501.3 L170.9,498.8 L171.4,491.3 L171.9,485.8 L172.3,488.8 L172.8,491.9 L173.3,497.7 L173.8,501.9 L174.2,504.5 L174.7,510.0 L175.2,506.1 L175.6,502.2 L176.1,497.4 L176.6,494.9 L177.0,494.9 L177.5,496.6 L178.0,498.6 L178.4,498.8 L178.9,494.3 L179.4,490.8 L179.8,493.0 L180.3,495.6 L180.8,499.2 L181.2,505.0 L181.7,506.5 L182.2,509.9 L182.7,509.7 L183.1,507.8 L183.5,491.3 L184.0,487.2 L184.4,485.9 L184.9,485.7 L185.4,483.5 L185.8,487.7 L186.3,491.1 L186.9,469.8 L187.3,471.2 L187.8,467.1 L188.3,469.5 L188.8,470.8 L189.3,483.8 L189.8,490.6 L190.2,492.5 L190.7,491.9 L191.2,491.1 L191.7,485.4 L192.1,480.3 L192.6,478.9 L193.1,478.6 L193.5,477.6 L194.0,478.3 L194.5,478.5 L194.9,477.5 L195.4,478.2 L195.9,476.1 L196.3,476.2 L196.8,474.6 L197.3,478.9 L197.8,483.5 L198.2,486.4 L198.7,487.3 L199.2,481.6 L199.6,475.9 L200.1,472.7 L200.6,465.9 L201.0,466.0 L201.5,466.8 L202.0,468.1 L202.4,469.7 L202.9,469.6 L203.4,472.1 L203.8,487.7 L204.2,481.9 L204.7,474.0 L205.2,472.1 L205.6,469.5 L206.1,467.2 L206.6,468.6 L207.0,469.6 L207.5,472.8 L208.0,477.9 L208.4,483.7 L208.9,485.2 L209.4,489.4 L209.8,483.9 L210.3,482.0 L210.8,475.6 L211.2,466.4 L211.7,465.8 L212.2,463.6 L212.7,461.1 L213.1,459.8 L213.6,459.0 L214.1,458.3 L214.5,459.0 L215.0,462.7 L215.5,464.6 L215.9,469.6 L216.4,467.6 L216.9,465.9 L217.3,465.2 L217.8,467.5 L218.3,464.4 L218.8,464.6 L219.2,467.4 L219.7,468.8 L220.2,472.3 L220.6,486.5 L221.0,500.1 L221.6,473.7 L222.0,474.5 L222.5,472.8 L223.0,469.7 L223.4,464.7 L223.9,461.5 L224.4,457.1 L224.8,456.2 L225.3,455.9 L225.9,464.0 L226.4,453.8 L227.0,446.3 L227.6,443.7 L228.1,452.9 L228.7,458.1 L229.2,469.2 L229.8,457.9 L230.4,468.8 L230.9,458.3 L231.5,467.1 L232.1,459.3 L232.4,472.5 L232.9,483.2 L233.4,491.5 L233.8,501.3 L234.3,510.5 L234.8,500.8 L235.2,490.9 L235.7,499.0 L236.2,507.6 L236.7,500.0 L237.1,491.1 L237.6,500.1 L238.1,508.4 L238.5,499.0 L239.0,491.3 L239.4,484.2 L239.8,477.3 L240.3,471.0 L240.8,470.0 L241.2,469.3 L241.6,469.9 L242.0,469.9 L242.5,481.6 L242.9,491.1 L243.4,500.9 L243.9,507.7 L244.3,512.9 L244.8,517.6 L245.3,517.8 L245.8,518.6 L246.2,512.6 L246.7,507.7 L247.2,503.1 L247.6,500.4 L248.1,496.1 L248.6,493.2 L249.0,490.9 L249.5,489.1 L250.0,489.2 L250.4,489.6 L250.9,490.4 L251.4,491.4 L251.8,491.0 L252.3,493.0 L252.8,492.8 L253.2,491.0 L253.7,492.4 L254.2,493.0 L254.7,494.9 L255.1,492.7 L255.6,498.4 L256.1,502.3 L256.5,508.7 L257.0,513.7 L257.5,508.5 L257.9,502.3 L258.4,498.9 L258.9,494.7 L259.3,493.9 L259.8,492.8 L260.3,490.5 L260.8,490.8 L261.2,492.2 L261.7,492.5 L262.2,490.9 L262.6,490.5 L263.1,491.2 L263.6,491.5 L264.0,493.0 L264.5,492.0 L265.0,492.3 L265.4,491.3 L266.0,507.9 L266.4,500.1 L266.8,490.8 L267.3,481.3 L267.8,481.5 L268.2,478.7 L268.7,480.1 L269.2,478.5 L269.7,478.6 L270.1,479.7 L270.6,479.8 L271.1,483.7 L271.5,486.0 L272.0,491.8 L272.5,489.2 L272.9,490.3 L273.4,488.3 L273.9,491.1 L274.3,492.9 L274.8,492.0 L275.3,494.7 L275.8,498.6 L276.3,508.3 L276.7,505.2 L277.1,500.5 L277.6,492.4 L278.1,494.3 L278.6,495.4 L279.0,499.0 L279.5,498.8 L280.0,500.8 L280.4,502.3 L280.9,505.1 L281.4,506.9 L281.8,503.5 L282.3,502.5 L282.8,504.3 L283.2,507.9 L283.7,508.9 L284.2,510.2 L284.7,505.5 L285.1,502.4 L285.6,501.9 L286.1,498.9 L286.5,496.6 L287.0,493.3 L287.5,492.5 L287.9,492.3 L288.4,491.7 L288.9,490.3 L289.3,491.7 L289.8,491.2 L290.3,488.3 L290.8,483.8 L291.2,482.5 L291.7,479.7 L292.2,478.5 L292.6,477.7 L293.1,478.8 L293.6,477.4 L294.0,479.7 L294.5,482.1 L295.0,483.0 L295.4,485.7 L296.0,491.1 L296.4,485.8 L296.8,483.6 L297.2,480.1 L297.7,478.6 L298.2,476.0 L298.6,475.1 L299.1,476.7 L299.6,476.2 L300.0,474.1 L300.5,474.5 L301.0,472.3 L301.4,472.2 L301.9,469.6 L302.4,469.4 L302.8,469.5 L303.3,474.1 L303.8,479.9 L304.2,481.8 L304.7,482.9 L305.2,485.7 L305.7,486.8 L306.1,488.4 L306.6,492.1 L307.1,492.0 L307.5,492.2 L308.0,490.9 L308.5,490.4 L308.9,491.5 L309.4,496.1 L309.9,498.9 L310.4,508.1 L310.9,510.8 L311.4,514.0 L311.8,516.1 L312.3,517.6 L312.8,517.5 L313.2,516.5 L313.7,516.7 L314.2,518.0 L314.7,516.3 L315.1,516.4 L315.6,516.7 L316.1,516.6 L316.5,516.2 L317.0,513.6 L317.5,514.0 L317.9,514.6 L318.4,511.4 L318.9,508.4 L319.3,509.6 L319.8,507.4 L320.3,508.6 L320.8,511.6 L321.2,510.7 L321.7,513.1 L322.2,512.2 L322.6,510.1 L323.1,511.3 L323.6,512.1 L324.0,510.4 L324.5,508.4 L325.0,504.6 L325.4,500.3 L325.9,497.7 L326.4,493.6 L326.8,488.8 L327.3,487.4 L327.8,483.6 L328.2,482.1 L328.7,479.7 L329.2,478.6 L329.7,480.1 L330.1,479.8 L330.6,485.2 L331.1,491.0 L331.5,488.0 L332.0,483.4 L332.5,484.6 L332.9,484.2 L333.4,488.9 L333.9,491.4 L334.3,489.2 L334.8,489.1 L335.3,490.9 L335.8,492.3 L336.2,485.3 L336.7,483.8 L337.2,482.3 L337.6,478.0 L338.1,477.3 L338.6,479.5 L339.0,479.7 L339.5,480.1 L340.0,482.4 L340.4,483.3 L340.9,485.9 L341.4,489.0 L341.8,490.2 L342.3,493.0 L342.8,491.7 L343.2,492.8 L343.7,493.6 L344.2,494.4 L344.7,487.4 L345.1,483.7 L345.6,486.4 L346.1,489.4 L346.5,491.2 L347.0,491.9 L347.5,490.4 L347.9,490.7 L348.4,492.9 L348.9,492.0 L349.3,489.1 L349.8,487.2 L350.3,488.1 L350.8,488.6 L351.2,488.7 L351.7,485.5 L352.2,485.4 L352.6,486.9 L353.1,483.5 L353.6,481.6 L354.0,479.6 L354.5,476.2 L355.1,464.6 L355.5,461.9 L356.0,459.2 L356.5,458.7 L356.9,458.2 L357.4,459.9 L357.9,460.2 L358.3,458.3 L358.8,457.9 L359.3,455.2 L359.8,455.0 L360.2,456.6 L360.7,457.4 L361.2,455.8 L361.6,453.2 L362.1,456.3 L362.6,458.1 L363.0,455.8 L363.5,454.8 L364.0,455.4 L364.4,457.5 L364.9,456.0 L365.4,454.1 L365.8,456.0 L366.3,457.9 L366.8,458.7 L367.2,461.1 L367.6,482.1 L368.1,487.2 L368.6,490.5 L369.0,490.8 L369.5,491.8 L370.0,491.8 L370.4,493.5 L370.9,490.3 L371.4,489.3 L371.8,488.1 L372.3,485.8 L372.8,484.0 L373.2,484.5 L373.7,483.0 L374.2,482.0 L374.7,487.8 L375.1,492.1 L375.6,489.5 L376.1,485.6 L376.5,487.6 L377.0,490.9 L377.5,488.8 L377.9,485.7 L378.4,483.6 L378.9,481.7 L379.3,480.7 L379.8,480.3 L380.3,480.1 L380.8,478.0 L381.2,477.4 L381.7,475.6 L382.2,472.4 L382.6,470.4 L383.2,460.9 L383.7,468.4 L384.1,473.6 L384.6,470.1 L385.1,465.2 L385.5,465.1 L386.0,461.1 L386.5,462.6 L386.9,463.7 L387.4,458.8 L387.9,452.5 L388.3,450.6 L388.8,448.6 L389.3,449.6 L389.8,450.2 L390.2,450.3 L390.7,448.3 L391.2,449.9 L391.6,450.4 L392.1,447.4 L392.6,446.5 L393.0,448.1 L393.5,448.1 L394.0,446.8 L394.4,447.2 L394.9,446.4 L395.4,445.6 L395.8,444.2 L396.3,446.1 L396.8,449.0 L397.2,448.6 L397.7,446.1 L398.2,444.3 L398.7,444.6 L399.1,445.0 L399.6,444.4 L400.1,444.4 L400.5,445.2 L401.0,448.1 L401.5,447.0 L401.9,444.8 L402.4,444.4 L402.9,443.8 L403.3,444.9 L403.8,445.4 L404.3,444.4 L404.8,444.4 L405.2,445.3 L405.7,445.6 L406.2,443.6 L406.6,444.3 L407.1,443.5 L407.6,444.6 L408.0,446.7 L408.5,446.5 L409.0,449.3 L409.4,450.3 L409.9,451.4 L410.4,453.8 L410.8,455.1 L411.3,458.0 L411.8,457.2 L412.2,461.4 L412.6,488.8 L413.1,482.3 L413.6,474.8 L414.0,468.2 L414.5,463.6 L415.0,462.2 L415.4,458.8 L415.9,459.6 L416.4,456.1 L416.8,452.1 L417.3,450.3 L417.8,447.0 L418.2,445.4 L418.7,444.8 L419.2,444.0 L419.7,445.4 L420.1,444.0 L420.6,444.4 L421.1,445.9 L421.5,444.8 L422.0,444.5 L422.5,446.0 L422.9,447.6 L423.4,451.6 L423.9,455.3 L424.4,474.5 L424.8,489.1 L425.4,474.2 L425.8,467.1 L426.1,457.6 L426.6,459.6 L427.1,458.3 L427.5,459.0 L428.0,460.0 L428.5,460.1 L428.9,459.3 L429.4,460.3 L429.9,461.9 L430.3,461.5 L430.8,460.1 L431.3,464.9 L431.8,468.7 L432.3,476.1 L432.8,470.4 L433.2,465.0 L433.6,464.6 L434.0,463.5 L434.5,462.7 L434.9,461.9 L435.4,461.7 L435.9,461.2 L436.3,462.4 L436.8,463.6 L437.3,462.1 L437.8,459.7 L438.2,461.0 L438.7,459.6 L439.2,459.6 L439.6,458.1 L440.1,461.0 L440.6,463.6 L441.0,468.6 L441.5,474.0 L442.0,487.4 L442.4,499.8 L442.9,489.3 L443.4,476.4 L443.8,470.3 L444.3,467.1 L444.8,469.8 L445.2,470.9 L445.7,467.9 L446.2,464.6 L446.7,465.7 L447.1,467.4 L447.6,471.4 L448.1,476.0 L448.6,498.6 L449.0,501.6 L449.4,506.4 L449.8,509.4 L450.3,513.9 L450.8,511.2 L451.2,508.7 L451.7,506.9 L452.2,502.3 L452.7,508.0 L453.1,513.7 L453.6,508.5 L454.1,505.0 L454.5,504.6 L455.0,502.4 L455.5,506.9 L455.9,513.5 L456.4,510.0 L456.9,506.8 L457.3,502.3 L457.8,501.1 L458.4,491.7 L458.8,495.8 L459.3,498.3 L459.8,501.2 L460.2,503.5 L460.7,509.6 L461.2,513.8 L461.8,505.9 L462.2,502.5 L462.7,502.5 L463.2,501.5 L463.6,500.1 L464.1,502.0 L464.6,502.5 L465.0,501.0 L465.5,501.3 L466.0,500.3 L466.4,503.7 L466.9,504.8 L467.4,504.3 L467.8,504.2 L468.3,505.8 L468.8,506.9 L469.2,507.8 L469.7,511.2 L470.2,513.4 L470.7,510.8 L471.1,506.7 L471.6,502.0 L472.1,498.5 L472.5,489.5 L473.0,485.6 L473.4,480.3 L473.8,474.0 L474.2,481.9 L474.7,487.3 L475.2,472.1 L475.7,468.5 L476.2,463.3 L476.7,459.8 L477.1,460.1 L477.6,461.5 L478.1,464.9 L478.5,463.3 L479.0,461.1 L479.5,460.4 L479.9,459.7 L480.4,458.1 L480.9,457.0 L481.3,458.9 L481.8,462.5 L482.3,464.2 L482.8,463.1 L483.2,461.6 L483.7,459.1 L484.2,457.9 L484.6,457.8 L485.1,459.8 L485.6,463.2 L486.1,474.4 L486.6,479.2 L487.1,482.0 L487.5,489.3 L488.0,496.8 L488.4,488.9 L488.8,482.2 L489.2,482.9 L489.7,479.4 L490.2,492.2 L490.6,502.1 L491.1,498.2 L491.6,494.9 L492.0,500.2 L492.5,506.1 L493.0,498.2 L493.4,491.9 L493.9,483.4 L494.4,477.9 L494.9,466.6 L495.4,464.2 L495.9,460.8 L496.3,460.8 L496.8,460.3 L497.3,463.9 L497.8,464.3 L498.2,460.7 L498.7,457.5 L499.2,457.7 L499.6,454.6 L500.1,457.3 L500.6,461.0 L501.0,463.7 L501.5,467.2 L502.0,462.7 L502.4,460.1 L502.9,461.7 L503.4,462.8 L503.8,461.8 L504.3,459.2 L504.8,457.9 L505.2,455.8 L505.7,457.9 L506.2,458.1 L506.7,459.5 L507.1,462.6 L507.6,463.9 L508.1,467.0 L508.6,476.4 L509.0,480.9 L509.4,485.6 L509.8,486.0 L510.3,484.1 L510.8,489.6 L511.2,495.2 L511.7,498.3 L512.2,504.8 L512.7,503.4 L513.1,498.8 L513.6,500.2 L514.1,502.9 L514.5,505.8 L515.0,510.0 L515.5,506.8 L515.9,502.4 L516.4,505.0 L516.9,505.6 L517.3,501.2 L517.8,500.9 L518.3,502.0 L518.8,502.6 L519.3,491.1 L519.8,489.4 L520.2,487.7 L520.7,490.2 L521.2,495.1 L521.7,492.4 L522.1,492.0 L522.6,496.3 L523.1,500.7 L523.5,502.5 L524.0,502.8 L524.5,505.2 L524.9,506.0 L525.4,510.1 L525.9,514.1 L526.3,509.3 L526.8,504.4 L527.3,505.3 L527.8,507.3 L528.2,507.0 L528.7,504.0 L529.2,507.8 L529.6,513.3 L530.1,508.6 L530.6,506.7 L531.0,506.1 L531.5,502.7 L532.0,504.5 L532.4,506.7 L532.9,504.4 L533.4,499.8 L533.8,495.9 L534.3,492.1 L534.8,485.3 L535.2,479.7 L535.7,480.4 L536.2,482.4 L536.7,485.2 L537.1,489.5 L537.6,497.0 L538.1,502.6 L538.5,504.4 L539.0,505.9 L539.5,503.3 L539.9,502.9 L540.4,502.3 L540.9,504.8 L541.4,482.3 L541.9,484.2 L542.4,483.7 L542.8,491.4 L543.1,500.7 L543.6,504.6 L544.1,506.4 L544.5,504.8 L545.0,502.5 L545.5,504.3 L545.9,503.7 L546.4,501.5 L546.9,501.2 L547.3,500.1 L547.8,499.0 L548.3,493.3 L548.8,490.9 L549.2,486.2 L549.7,481.8 L550.2,479.2 L550.6,474.2 L551.1,477.3 L551.6,479.7 L552.0,480.7 L552.5,482.0 L553.0,484.1 L553.4,486.0 L553.9,489.2 L554.4,495.3 L554.8,496.3 L555.3,496.6 L555.8,502.7 L556.2,506.0 L556.7,503.1 L557.2,500.8 L557.7,502.8 L558.1,502.4 L558.6,503.3 L559.1,501.7 L559.5,502.3 L560.0,504.6 L560.5,502.6 L560.9,500.4 L561.4,501.4 L561.9,502.9 L562.3,504.7 L562.8,506.2 L563.3,509.8 L563.8,511.4 L564.2,514.3 L564.7,516.1 L565.2,513.2 L565.6,512.4 L566.1,512.5 L566.6,513.7 L567.0,512.6 L567.5,512.8 L568.0,512.4 L568.4,513.9 L568.9,513.3 L569.4,512.0 L569.8,512.3 L570.3,514.0 L570.8,511.4 L571.2,511.6 L571.7,511.3 L572.2,511.4 L572.7,511.5 L573.1,513.0 L573.6,513.8 L574.1,512.6 L574.5,514.4 L575.0,513.5 L575.5,514.9 L575.9,515.8 L576.4,517.6 L576.9,518.6 L577.3,516.9 L577.8,515.6 L578.3,514.9 L578.8,516.8 L579.2,515.4 L579.7,513.5 L580.2,515.8 L580.6,514.7 L581.1,512.7 L581.6,512.1 L582.0,511.3 L582.5,510.2 L583.0,509.0 L583.4,508.4 L583.9,506.8 L584.4,505.7 L584.8,508.0 L585.3,509.7 L585.8,505.4 L586.2,502.7 L586.7,500.5 L587.2,496.4 L587.7,496.5 L588.1,495.0 L588.6,495.7 L589.1,495.7 L589.5,492.1 L590.0,490.1 L590.5,491.9 L590.9,494.9 L591.4,496.0 L591.9,496.9 L592.3,495.8 L592.8,490.9 L593.3,489.9 L593.8,489.4 L594.2,487.6 L594.7,484.3 L595.2,484.8 L595.6,487.6 L596.1,492.5 L596.6,497.1 L597.0,498.4 L597.5,498.2 L598.0,500.6 L598.4,500.6 L598.9,503.4 L599.4,502.4 L599.8,501.5 L600.3,504.3 L600.8,505.5 L601.2,506.4 L601.7,506.0 L602.2,505.1 L602.7,502.4 L603.1,502.4 L603.6,500.4 L604.1,498.5 L604.6,496.9 L605.1,499.4 L605.6,501.8 L606.0,503.6 L606.5,506.0 L607.0,504.6 L607.4,504.0 L607.9,504.3 L608.4,505.5 L608.8,503.9 L609.3,506.7 L609.8,504.8 L610.2,504.6 L610.7,504.4 L611.2,506.2 L611.7,506.5 L612.1,505.3 L612.6,505.0 L613.1,504.1 L613.5,504.7 L614.0,506.3 L614.5,505.2 L614.9,504.4 L615.4,503.3 L615.9,503.3 L616.3,505.0 L616.8,505.8 L617.3,504.5 L617.8,504.2 L618.2,500.7 L618.7,497.2 L619.2,496.2 L619.6,495.4 L620.1,495.3 L620.6,495.6 L621.0,492.4 L621.5,492.5 L622.0,495.7 L622.4,498.5 L622.9,501.9 L623.4,504.0 L623.8,506.2 L624.3,506.6 L624.8,506.8 L625.2,505.2 L625.6,507.0 L626.0,506.5 L626.5,507.2 L626.9,504.7 L627.4,505.7 L627.9,504.8 L628.3,502.3 L628.8,501.0 L629.3,501.2 L629.8,502.1 L630.2,500.9 L630.7,500.6 L631.2,499.1 L631.6,500.4 L632.1,499.9 L632.6,501.2 L633.0,499.4 L633.5,498.8 L634.0,499.8 L634.4,500.8 L634.9,501.5 L635.4,500.0 L635.8,499.4 L636.3,501.6 L636.8,500.9 L637.2,500.9 L637.7,501.2 L638.2,502.0 L638.7,501.2 L639.1,501.3 L639.6,500.7 L640.1,502.9 L640.5,502.9 L641.0,501.3 L641.5,500.9 L641.9,502.3 L642.4,503.3 L642.9,504.0 L643.3,500.8 L643.8,500.5 L644.4,483.3 L644.8,483.1 L645.3,481.0 L645.8,480.5 L646.2,480.3 L646.7,479.8 L647.2,479.6 L647.7,478.4 L648.1,477.9 L648.6,477.2 L649.1,476.2 L649.5,476.0 L650.0,473.3 L650.5,473.5 L650.9,474.1 L651.4,475.6 L651.9,477.4 L652.3,479.2 L652.8,480.2 L653.3,482.0 L653.8,483.5 L654.2,479.9 L654.7,474.6 L655.2,473.7 L655.6,472.7 L656.1,473.4 L656.6,474.5 L657.0,477.7 L657.5,479.6 L658.0,480.0 L658.4,480.7 L658.9,481.8 L659.4,481.0 L659.8,483.1 L660.3,483.7 L660.8,484.1 L661.2,484.8 L661.6,489.5 L662.0,497.0 L662.5,489.7 L662.9,483.5 L663.4,481.2 L663.9,476.1 L664.3,473.4 L664.8,468.7 L665.3,468.0 L665.8,467.7 L666.2,468.4 L666.7,471.4 L667.2,472.2 L667.6,473.0 L668.1,472.2 L668.6,470.9 L669.0,470.3 L669.5,471.3 L670.0,471.0 L670.4,469.9 L670.9,469.2 L671.4,471.0 L671.8,468.7 L672.3,467.9 L672.8,466.9 L673.2,467.1 L673.7,469.5 L674.2,471.0 L674.7,473.6 L675.1,478.2 L675.6,481.1 L676.1,480.0 L676.5,476.7 L677.0,472.6 L677.5,471.1 L677.9,471.2 L678.4,472.5 L678.9,471.3 L679.3,471.6 L679.8,471.3 L680.3,471.5 L680.8,471.6 L681.2,475.7 L681.7,478.4 L682.2,478.5 L682.6,480.7 L683.1,482.8 L683.6,481.7 L684.0,481.4 L684.5,480.7 L685.0,483.6 L685.4,482.4 L685.9,481.6 L686.4,479.9 L686.8,480.7 L687.3,481.5 L687.8,480.7 L688.2,480.9 L688.7,480.7 L689.2,479.4 L689.7,481.5 L690.1,482.5 L690.6,483.2 L691.1,483.6 L691.5,485.5 L692.0,487.4 L692.5,488.9 L692.9,489.4 L693.4,484.1 L693.9,481.0 L694.3,476.9 L694.8,474.5 L695.3,471.0 L695.8,470.3 L696.2,472.7 L696.7,471.4 L697.2,471.9 L697.6,472.6 L698.1,472.1 L698.6,470.4 L699.0,471.7 L699.5,471.8 L700.0,472.3 L700.4,471.8 L700.9,469.6 L701.4,470.9 L701.8,475.1 L702.3,475.3 L702.8,477.0 L703.2,478.6 L703.7,479.7 L704.2,479.7 L704.7,479.9 L705.1,480.8 L705.6,481.1 L706.1,479.7 L706.5,479.6 L707.0,481.9 L707.5,480.7 L707.9,481.5 L708.4,479.5 L708.9,480.1 L709.3,480.7 L709.8,481.4 L710.3,480.9 L710.8,480.2 L711.2,480.8 L711.7,479.7 L712.2,480.8 L712.6,483.2 L713.1,489.7 L713.6,493.3 L714.0,491.8 L714.5,492.1 L715.0,492.3 L715.4,491.5 L715.9,492.2 L716.4,492.4 L716.8,489.0 L717.3,481.8 L717.8,485.9 L718.2,487.0 L718.7,489.1 L719.2,489.9 L719.7,489.9 L720.1,488.0 L720.6,489.1 L721.1,490.9 L721.5,493.8 L722.0,499.0 L722.5,492.5 L722.9,486.0 L723.4,486.9 L723.9,486.0 L724.3,486.7 L724.8,486.6 L725.3,486.5 L725.8,484.0 L726.2,485.1 L726.7,486.2 L727.2,485.1 L727.6,484.1 L728.1,484.0 L728.6,484.8 L729.0,482.7 L729.5,483.0 L730.0,483.5 L730.4,483.6 L730.9,484.7 L731.4,485.7 L731.8,484.4 L732.3,483.1 L732.8,482.3 L733.2,479.2 L733.7,478.4 L734.2,476.7 L734.7,471.5 L735.1,468.7 L735.6,469.0 L736.1,464.8 L736.5,466.8 L737.0,467.0 L737.5,464.2 L737.9,464.0 L738.4,462.9 L738.9,464.9 L739.3,465.3 L739.8,464.3 L740.3,465.3 L740.8,465.7 L741.2,467.9 L741.7,469.2 L742.2,470.8 L742.6,471.9 L743.1,469.6 L743.6,467.0 L744.0,465.1 L744.5,465.5 L745.0,464.5 L745.4,465.6 L745.9,464.4 L746.4,463.8 L746.8,465.7 L747.3,464.9 L747.8,463.4 L748.2,462.1 L748.7,463.1 L749.2,464.5 L749.7,464.9 L750.1,463.0 L750.6,464.2 L751.1,462.4 L751.5,463.9 L752.0,465.5 L752.5,464.2 L752.9,463.2 L753.4,463.7 L753.9,463.6 L754.3,464.4 L754.8,466.5 L755.3,464.2 L755.8,462.9 L756.2,463.6 L756.7,465.4 L757.2,465.5 L757.6,466.2 L758.1,464.8 L758.6,462.8 L759.0,462.4 L759.5,461.7 L760.0,460.2 L760.4,461.4 L760.9,465.0 L761.4,468.8 L761.8,472.4 L762.3,473.9 L762.8,476.1 L763.2,477.3 L763.7,479.2 L764.2,482.1 L764.7,481.4 L765.1,483.3 L765.6,480.6 L766.1,478.7 L766.5,476.0 L767.0,472.4 L767.5,473.5 L767.9,473.5 L768.4,471.6 L768.9,470.4 L769.3,468.2 L769.8,464.9 L770.3,463.8 L770.8,461.0 L771.2,461.0 L771.7,459.2 L772.2,461.8 L772.6,462.5 L773.1,460.6 L773.6,461.1 L774.0,461.1 L774.5,461.0 L775.0,458.2 L775.4,457.5 L775.9,454.8 L776.4,451.6 L776.8,449.9 L777.3,449.8 L777.8,452.3 L778.2,456.3 L778.7,452.5 L779.2,450.1 L779.7,448.2 L780.1,451.6 L780.6,453.8 L781.1,457.5 L781.5,457.7 L782.0,460.7 L782.5,459.2 L782.9,458.3 L783.4,459.0 L783.9,461.5 L784.3,460.7 L784.8,459.1 L785.3,461.3 L785.8,460.0 L786.2,462.8 L786.7,463.2 L787.2,459.5 L787.6,458.3 L788.1,459.4 L788.6,459.2 L789.0,458.5 L789.5,457.5 L790.0,460.2 L790.4,461.9 L790.9,465.2 L791.4,465.1 L791.8,471.0 L792.3,474.3 L792.8,471.7 L793.2,468.4 L793.7,466.9 L794.2,465.5 L794.7,466.2 L795.1,466.6 L795.6,467.3 L796.1,469.0 L796.6,486.5 L797.1,480.4 L797.6,470.7 L798.0,472.5 L798.5,474.6 L799.0,474.9 L799.4,472.0 L799.9,468.6 L800.4,465.7 L800.8,462.8 L801.3,463.1 L801.8,462.1 L802.2,461.5 L802.7,460.9 L803.2,459.6 L803.7,460.4 L804.1,460.2 L804.6,463.8 L805.1,462.7 L805.5,462.4 L806.0,462.8 L806.5,462.2 L806.9,460.7 L807.4,460.3 L807.9,459.7 L808.3,462.1 L808.8,463.3 L809.3,462.8 L809.8,463.9 L810.2,462.0 L810.7,463.4 L811.2,463.6 L811.6,465.1 L812.1,470.6 L812.6,472.2 L813.0,477.2 L813.5,481.6 L814.0,487.7 L814.4,497.2 L814.9,489.3 L815.4,481.9 L815.8,491.9 L816.3,500.5 L816.8,502.2 L817.2,502.9 L817.6,501.9 L818.0,502.7 L818.5,501.7 L818.9,501.0 L819.4,501.9 L819.9,498.4 L820.4,474.9 L820.9,470.7 L821.4,467.1 L821.8,465.3 L822.3,463.1 L822.8,461.6 L823.2,462.2 L823.7,462.8 L824.2,465.5 L824.7,469.1 L825.1,472.3 L825.6,476.9 L826.1,482.3 L826.5,489.1 L827.0,498.8 L827.5,503.6 L827.9,507.8 L828.4,506.2 L828.9,502.4 L829.3,500.6 L829.8,496.9 L830.3,498.2 L830.8,500.6 L831.2,502.4 L831.7,502.2 L832.2,498.0 L832.6,495.0 L833.1,488.0 L833.6,480.2 L834.0,482.9 L834.5,487.1 L835.0,494.0 L835.4,500.5 L835.9,499.0 L836.4,496.3 L836.8,500.2 L837.3,504.0 L837.8,504.8 L838.2,501.8 L838.7,498.9 L839.2,496.7 L839.7,487.8 L840.1,481.7 L840.6,480.2 L841.1,479.4 L841.5,480.0 L842.0,481.4 L842.5,479.6 L842.9,478.6 L843.4,476.9 L843.9,473.5 L844.3,472.7 L844.8,471.7 L845.3,480.5 L845.8,492.3 L846.2,487.1 L846.7,481.9 L847.2,482.0 L847.6,483.6 L848.1,488.4 L848.6,495.3 L849.0,483.8 L849.5,471.8 L850.0,467.7 L850.4,464.5 L850.9,462.7 L851.4,462.7 L851.8,463.7 L852.3,465.7 L852.8,463.7 L853.2,461.2 L853.7,460.9 L854.2,460.1 L854.7,463.2 L855.1,465.5 L855.6,461.9 L856.1,460.4 L856.5,461.5 L857.0,462.2 L857.5,459.8 L857.9,457.7 L858.4,454.5 L858.9,451.7 L859.3,450.3 L859.8,450.3 L860.3,448.6 L860.8,447.5 L861.2,446.8 L861.7,446.1 L862.2,449.3 L862.6,451.3 L863.1,453.7 L863.6,458.9 L864.0,457.8 L864.5,457.1 L865.0,455.2 L865.4,454.9 L865.9,456.7 L866.4,458.0 L866.8,457.3 L867.3,459.4 L867.8,457.1 L868.2,454.6 L868.7,453.0 L869.2,452.7 L869.7,455.2 L870.1,458.2 L870.6,459.4 L871.1,461.6 L871.5,462.7 L872.0,465.1 L872.5,462.6 L872.9,460.3 L873.4,462.8 L873.9,467.8 L874.3,466.3 L874.8,460.3 L875.3,463.4 L875.8,469.6 L876.2,464.5 L876.7,459.5 L877.2,468.4 L877.6,479.9 L878.1,473.2 L878.6,466.8 L879.0,463.2 L879.5,461.5 L880.0,459.6 L880.4,460.7 L880.9,458.4 L881.4,456.4 L881.8,456.1 L882.3,458.6 L882.8,461.1 L883.2,462.6 L883.7,465.5 L884.2,464.9 L884.7,464.6 L885.1,467.3 L885.6,474.4 L886.1,483.4 L886.5,483.4 L887.0,485.3 L887.5,485.8 L887.9,486.2 L888.4,484.4 L888.9,481.5 L889.3,480.8 L889.8,479.2 L890.3,479.0 L890.8,479.0 L891.2,481.9 L891.7,483.6 L892.2,489.4 L892.6,495.1 L893.1,503.6 L893.6,513.9 L894.0,510.2 L894.5,506.0 L895.0,503.3 L895.4,502.9 L895.9,499.7 L896.4,495.1 L896.8,496.9 L897.3,497.4 L897.8,492.0 L898.2,487.7 L898.7,486.6 L899.2,484.8 L899.7,485.0 L900.1,485.4 L900.6,487.2 L901.1,487.6 L901.5,493.6 L902.0,497.0 L902.5,493.2 L902.9,488.9 L903.4,493.9 L903.9,498.8 L904.3,494.9 L904.8,491.0 L905.3,496.2 L905.8,505.9 L906.2,500.7 L906.7,495.5 L907.2,489.8 L907.6,486.7 L908.1,491.5 L908.6,499.1 L909.0,495.7 L909.5,493.1 L910.0,488.7 L910.4,483.5 L911.0,466.6 L911.5,466.8 L911.9,464.5 L912.4,467.4 L912.9,471.8 L913.3,475.4 L913.8,477.8 L914.3,472.7 L914.8,468.8 L915.2,468.5 L915.7,465.5 L916.2,464.2 L916.6,463.9 L917.1,464.9 L917.6,465.3 L918.0,464.3 L918.5,462.0 L919.0,462.6 L919.4,461.0 L919.9,461.0 L920.4,460.1 L920.8,462.2 L921.3,465.6 L921.8,463.7 L922.2,464.0 L922.7,466.7 L923.2,469.4 L923.7,469.9 L924.1,470.5 L924.6,477.4 L925.1,484.3 L925.5,476.7 L926.0,469.0 L926.5,468.8 L926.9,464.7 L927.4,469.7 L927.9,472.2 L928.3,470.3 L928.8,466.1 L929.3,477.3 L929.8,487.6 L930.2,478.4 L930.7,467.7 L931.2,465.8 L931.6,465.7 L932.1,467.9 L932.6,470.6 L933.0,467.9 L933.5,464.4 L934.0,465.6 L934.4,467.2 L934.9,464.6 L935.4,461.0 L935.8,460.5 L936.3,459.7 L936.8,461.4 L937.2,465.0 L937.7,462.9 L938.2,462.1 L938.7,462.2 L939.1,465.0 L939.6,463.5 L940.1,463.5 L940.5,464.2 L941.0,466.7 L941.5,465.5 L941.9,462.9 L942.4,469.6 L942.9,472.5 L943.3,469.1 L943.8,464.5 L944.3,470.5 L944.8,476.0 L945.2,468.5 L945.7,462.7 L946.2,463.8 L946.6,462.0 L947.1,467.3 L947.6,472.2 L948.0,473.0 L948.5,474.2 L949.0,478.9 L949.4,483.7 L949.9,481.6 L950.4,478.1 L950.8,479.8 L951.3,481.6 L951.8,486.6 L952.2,490.4 L952.7,484.8 L953.2,479.3 L953.7,478.9 L954.1,477.4 L954.6,483.1 L955.1,485.6 L955.5,482.5 L956.0,477.1 L956.5,479.3 L956.9,480.6 L957.4,481.6 L957.9,481.5 L958.3,482.3 L958.8,485.4 L959.3,486.6 L959.8,487.1 L960.2,488.5 L960.7,492.9 L961.2,500.5" fill="none" stroke="url(#fg)" stroke-width="1.7" filter="url(#bl)" stroke-linejoin="round" stroke-linecap="round"/>
<text x="40.5" y="121.0" text-anchor="end" class="yl">480</text>
<text x="40.5" y="223.0" text-anchor="end" class="yl">360</text>
<text x="40.5" y="325.0" text-anchor="end" class="yl">240</text>
<text x="40.5" y="427.0" text-anchor="end" class="yl">120</text>
<text x="40.5" y="528.0" text-anchor="end" class="yl">0</text>
<text x="975.8" y="123.5" class="yr">100K</text>
<text x="975.8" y="146.5" class="yr">80K</text>
<text x="975.8" y="176.5" class="yr">60K</text>
<text x="975.8" y="218.5" class="yr">40K</text>
<text x="975.8" y="290.0" class="yr">20K</text>
<text x="975.8" y="361.5" class="yr">10K</text>
<text x="975.8" y="384.5" class="yr">8K</text>
<text x="975.8" y="414.0" class="yr">6K</text>
<text x="975.8" y="456.0" class="yr">4K</text>
<text x="975.8" y="528.0" class="yr">2K</text>
<text x="111.4" y="543.3" text-anchor="middle" class="xl">2018 Jul</text>
<text x="171.4" y="543.3" text-anchor="middle" class="xl">2019 Jan</text>
<text x="229.4" y="543.3" text-anchor="middle" class="xl">2019 Jul</text>
<text x="288.4" y="543.3" text-anchor="middle" class="xl">2020 Jan</text>
<text x="347.4" y="543.3" text-anchor="middle" class="xl">2020 Jul</text>
<text x="405.4" y="543.3" text-anchor="middle" class="xl">2021 Jan</text>
<text x="464.4" y="543.3" text-anchor="middle" class="xl">2021 Jul</text>
<text x="522.4" y="543.3" text-anchor="middle" class="xl">2022 Jan</text>
<text x="581.4" y="543.3" text-anchor="middle" class="xl">2022 Jul</text>
<text x="640.4" y="543.3" text-anchor="middle" class="xl">2023 Jan</text>
<text x="698.4" y="543.3" text-anchor="middle" class="xl">2023 Jul</text>
<text x="757.4" y="543.3" text-anchor="middle" class="xl">2024 Jan</text>
<text x="815.9" y="543.3" text-anchor="middle" class="xl">2024 Jul</text>
<text x="875.4" y="543.3" text-anchor="middle" class="xl">2025 Jan</text>
<text x="933.4" y="543.3" text-anchor="middle" class="xl">2025 Jul</text>
<text x="999.5" y="562" text-anchor="end" class="cp">© CryptoQuant. All rights reserved</text>
</svg>
<div class="title">Crypto Fear &amp; Greed Index</div>
<div class="legend"><i style="left:385px;width:17px"></i><span style="left:406px">Fear &amp; Greed Index</span><i style="left:529px;width:17px"></i><span style="left:549px;letter-spacing:-0.42px">BTC Price [USD]</span></div>
</body></html>
